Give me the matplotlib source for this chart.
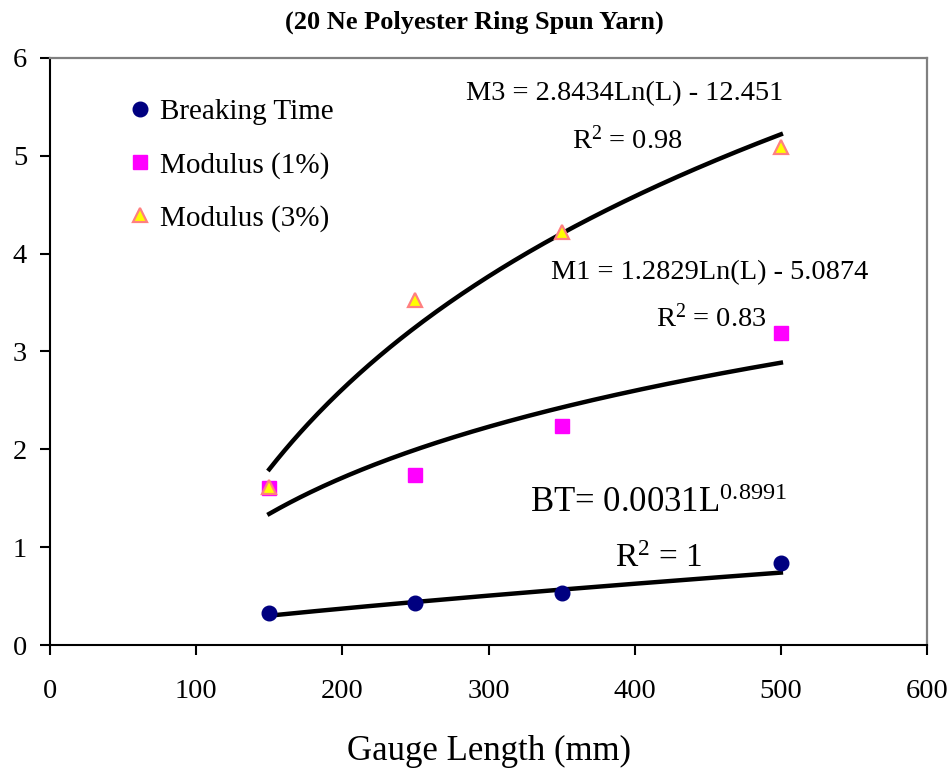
import numpy as np
import matplotlib as mpl
import matplotlib.pyplot as plt
from matplotlib.lines import Line2D

plt.rcParams.update({
    "font.family": "Liberation Serif",
    "mathtext.fontset": "custom",
    "mathtext.rm": "Liberation Serif",
    "mathtext.it": "Liberation Serif:italic",
    "mathtext.bf": "Liberation Serif:bold",
})

# gauge lengths (mm)
gauge = [150, 250, 350, 500]
breaking_time = [0.33, 0.43, 0.53, 0.84]
modulus_1 = [1.60, 1.74, 2.24, 3.19]
modulus_3 = [1.62, 3.53, 4.22, 5.09]

# trend line coefficients (log fits from the chart labels)
m3_fit = (2.8434, -12.451)
m1_fit = (1.2829, -5.0874)
# power curve as drawn for breaking time
bt_fit = (0.0070, 0.75)

fig = plt.figure(figsize=(9.51, 7.72), dpi=100)
ax = fig.add_axes([0.0526, 0.1645, 0.9222, 0.7604])

L = np.linspace(min(gauge), max(gauge), 200)
ax.plot(L, m3_fit[0] * np.log(L) + m3_fit[1], color="black", lw=3.2, zorder=2)
ax.plot(L, m1_fit[0] * np.log(L) + m1_fit[1], color="black", lw=3.2, zorder=2)
ax.plot(L, bt_fit[0] * L ** bt_fit[1], color="black", lw=3.2, zorder=2)

ax.plot(gauge, breaking_time, "o", ms=10.5, color="#000080", mec="#000080", zorder=3)
ax.plot(gauge, modulus_1, "s", ms=9.5, color="#FF00FF", mec="#FF00FF", zorder=3)
ax.plot(gauge, modulus_3, "^", ms=10.5, color="#FFFF00", mec="#FF8080", mew=1.6, zorder=4)

ax.set_xlim(0, 600)
ax.set_ylim(0, 6)
ax.set_xticks(np.arange(0, 601, 100))
ax.set_yticks(np.arange(0, 7, 1))
ax.tick_params(axis="both", direction="out", length=7.5, width=1.5, labelsize=20.5)
ax.tick_params(axis="x", pad=17)
ax.tick_params(axis="y", pad=9)

for s in ["left", "bottom"]:
    ax.spines[s].set_linewidth(1.5)
    ax.spines[s].set_color("black")
for s in ["top", "right"]:
    ax.spines[s].set_linewidth(1.6)
    ax.spines[s].set_color("#808080")

ax.set_xlabel("Gauge Length (mm)", fontsize=25)
ax.xaxis.set_label_coords(0.5, -0.182)
ax.xaxis.label.set_va("center")

fig.text(0.4985, 0.9715, "(20 Ne Polyester Ring Spun Yarn)", ha="center", va="center",
         fontsize=19, fontweight="bold")

ax.text(393, 5.64, "M3 = 2.8434Ln(L) - 12.451", ha="center", va="center", fontsize=20.4)
ax.text(395, 5.16, r"R$^{2}$ = 0.98", ha="center", va="center", fontsize=20.4)
ax.text(451, 3.81, "M1 = 1.2829Ln(L) - 5.0874", ha="center", va="center", fontsize=20.4)
ax.text(452, 3.34, r"R$^{2}$ = 0.83", ha="center", va="center", fontsize=20.4)
ax.text(416, 1.45, r"BT= 0.0031L$^{0.8991}$", ha="center", va="center", fontsize=25)
ax.text(416, 0.88, r"R$^{2}$ = 1", ha="center", va="center", fontsize=24)

handles = [
    Line2D([], [], ls="none", marker="o", ms=10.5, color="#000080"),
    Line2D([], [], ls="none", marker="s", ms=9.5, color="#FF00FF"),
    Line2D([], [], ls="none", marker="^", ms=10.5, color="#FFFF00", mec="#FF8080", mew=1.6),
]
ax.legend(handles, ["Breaking Time", "Modulus (1%)", "Modulus (3%)"],
          loc="upper left", bbox_to_anchor=(0.059, 0.975), frameon=False,
          fontsize=21, handlelength=0.8, handletextpad=0.3, labelspacing=0.9)

fig.savefig("out.png", dpi=100)
